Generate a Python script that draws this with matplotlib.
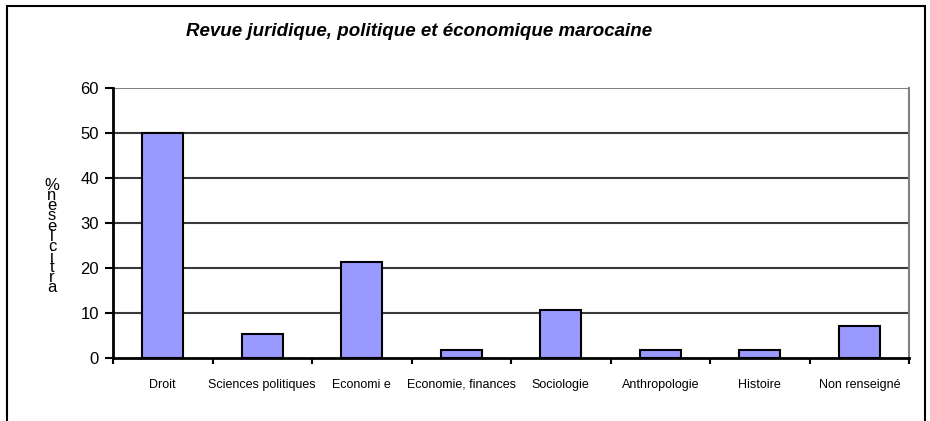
import matplotlib
matplotlib.use("Agg")
import matplotlib.pyplot as plt
from matplotlib.patches import Rectangle

categories = ["Droit", "Sciences politiques", "Economi e", "Economie, finances",
              "Sociologie", "Anthropologie", "Histoire", "Non renseigné"]
values = [50.0, 5.4, 21.4, 1.8, 10.7, 1.8, 1.8, 7.1]
yticks = [0, 10, 20, 30, 40, 50, 60]
title = "Revue juridique, politique et économique marocaine"
ylabel_chars = ["%", "n", "e", "s", "e", "l", "c", "i", "t", "r", "a"]

W, H = 930, 421
fig = plt.figure(figsize=(W / 100, H / 100), dpi=100)
plt.rcParams['font.family'] = ['Liberation Sans', 'DejaVu Sans']

def fx(px):
    return px / W

def fy(py):
    return 1 - py / H

ax = fig.add_axes([fx(113), fy(358), fx(909) - fx(113), fy(88) - fy(358)])
x = list(range(len(categories)))
ax.bar(x, values, width=0.41, color="#9999FF", edgecolor="black", linewidth=1.5, zorder=3)
ax.set_xlim(-0.5, len(categories) - 0.5)
ax.set_ylim(0, 60)
ax.set_yticks(yticks)
ax.set_yticklabels([str(v) for v in yticks], fontsize=12)
ax.set_xticks([i + 0.5 for i in range(-1, len(categories))])
ax.set_xticklabels([])
ax.set_xticks(x, minor=True)
ax.set_xticklabels(categories, minor=True, fontsize=9)
ax.tick_params(axis='x', which='minor', length=0, pad=15)
ax.tick_params(axis='x', which='major', length=4, width=1.5, direction='out')
ax.tick_params(axis='y', length=6, width=1.5, direction='out', pad=4)
for yv in yticks[1:]:
    ax.axhline(yv, color="#3a3a3a" if yv < 60 else "#808080", linewidth=1.5, zorder=1)
ax.spines['left'].set_linewidth(2)
ax.spines['bottom'].set_linewidth(2)
ax.spines['bottom'].set_zorder(4)
ax.spines['right'].set_color("#808080")
ax.spines['right'].set_linewidth(1.5)
ax.spines['top'].set_visible(False)

fig.text(fx(419), fy(32), title, ha='center', va='center', fontsize=13.5,
         fontweight='bold', fontstyle='italic')

n = len(ylabel_chars)
for i, ch in enumerate(ylabel_chars):
    py = 185 + i * (288 - 185) / (n - 1)
    fig.text(fx(52), fy(py), ch, ha='center', va='center', fontsize=12)

fig.patches.append(Rectangle((fx(7), fy(430)), fx(925) - fx(7), fy(6) - fy(430),
                             transform=fig.transFigure, fill=False,
                             edgecolor="black", linewidth=1.5))

fig.savefig("out.png", dpi=100)
